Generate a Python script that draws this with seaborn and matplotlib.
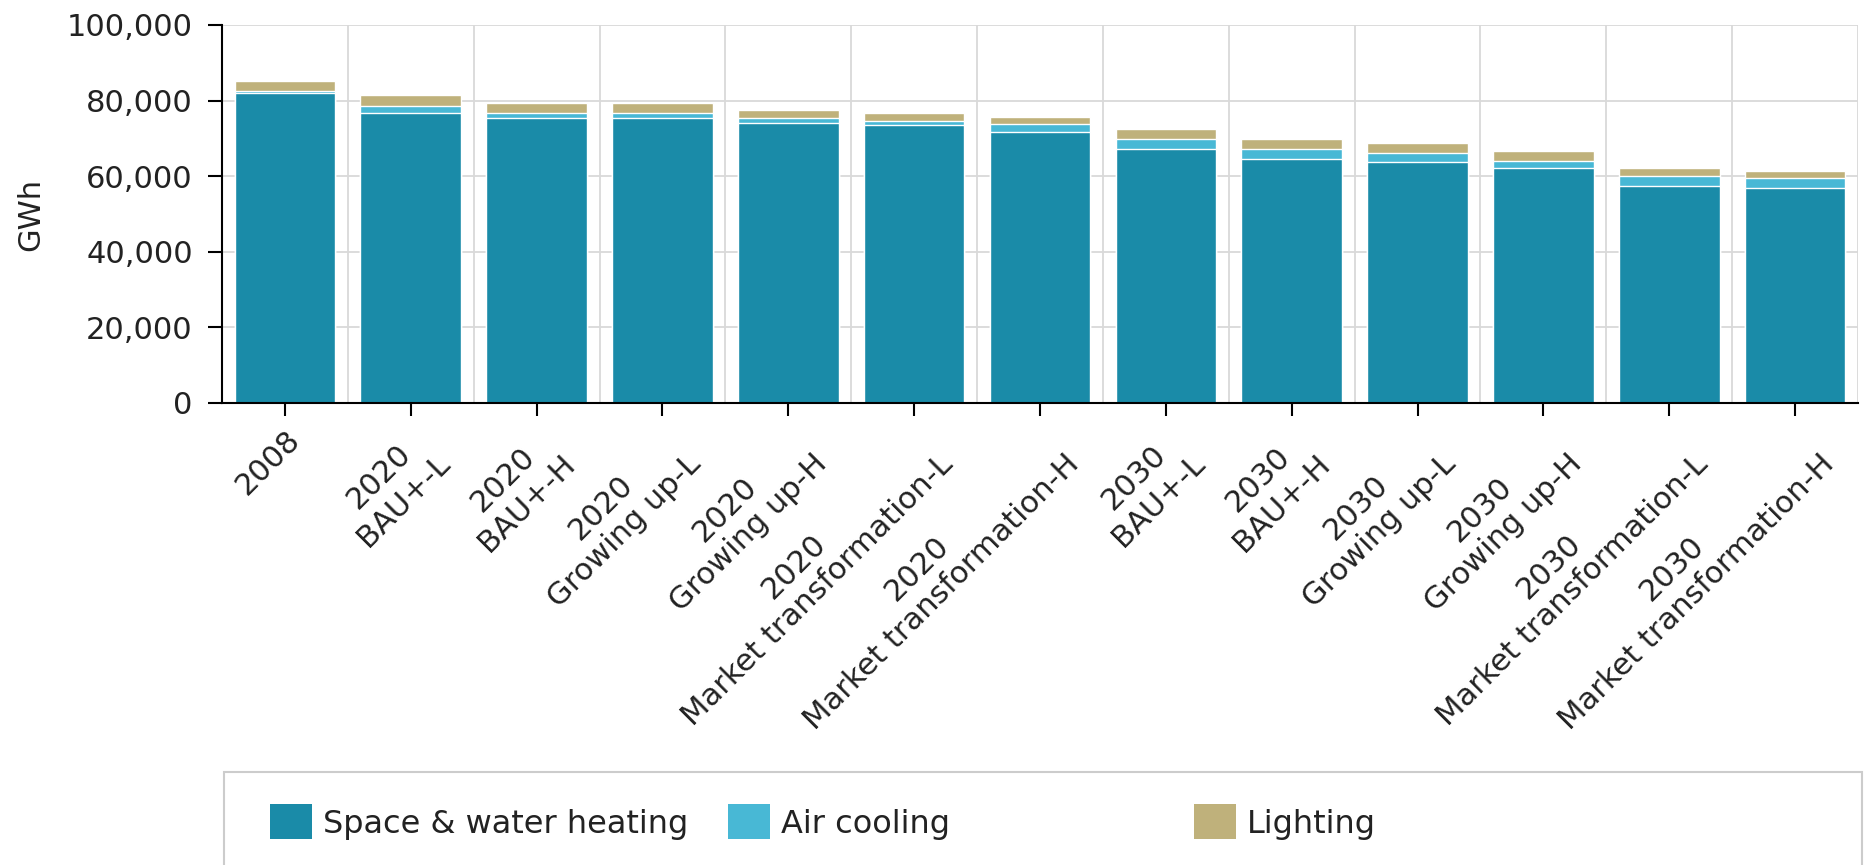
import numpy as np
import pandas as pd
import matplotlib
matplotlib.use("Agg")
import matplotlib.pyplot as plt
import seaborn as sns
from matplotlib.patches import Patch, Rectangle
from matplotlib.ticker import MultipleLocator, StrMethodFormatter

# values (GWh)
years = ["2008", "2020", "2020", "2020", "2020", "2020", "2020",
         "2030", "2030", "2030", "2030", "2030", "2030"]
scenarios = ["", "BAU+-L", "BAU+-H", "Growing up-L", "Growing up-H",
             "Market transformation-L", "Market transformation-H",
             "BAU+-L", "BAU+-H", "Growing up-L", "Growing up-H",
             "Market transformation-L", "Market transformation-H"]
heating = [81900, 76800, 75500, 75500, 74150, 73500, 71600, 67100, 64550, 63850, 62100, 57500, 56800]
cooling = [700, 1850, 1300, 1300, 1330, 1150, 2100, 2650, 2650, 2200, 1950, 2650, 2650]
lighting = [2650, 2830, 2650, 2650, 2030, 2200, 2000, 2650, 2650, 2650, 2650, 2100, 2000]

series_names = ["Space & water heating", "Air cooling", "Lighting"]
c_heat, c_cool, c_light = "#1a8ba8", "#48b8d5", "#bfb17b"

labels = [y if s == "" else y + "\n" + s for y, s in zip(years, scenarios)]
df = pd.DataFrame({"label": labels, "heating": heating, "cooling": cooling, "lighting": lighting})
df["heat_cool"] = df["heating"] + df["cooling"]
df["total"] = df["heat_cool"] + df["lighting"]

sns.set_theme(style="white")
plt.rcParams["font.family"] = ["DejaVu Sans"]
txt = "#222222"
fs = 22

W, H = 1866, 865
fig = plt.figure(figsize=(W / 100, H / 100), dpi=100)
ax = fig.add_axes([222 / W, 1 - 403 / H, (1858 - 222) / W, (403 - 25) / H])

# stacked bars drawn as overlapping cumulative totals
for col, color in [("total", c_light), ("heat_cool", c_cool), ("heating", c_heat)]:
    sns.barplot(data=df, x="label", y=col, color=color, saturation=1, width=0.8,
                edgecolor="white", linewidth=1, errorbar=None, ax=ax)

ax.set_xlim(-0.5, len(labels) - 0.5)
ax.set_ylim(0, 100000)
ax.yaxis.set_major_locator(MultipleLocator(20000))
ax.yaxis.set_major_formatter(StrMethodFormatter("{x:,.0f}"))

ax.set_axisbelow(True)
ax.grid(axis="y", which="major", color="#d9d9d9", lw=1.3)
ax.set_xticks(np.arange(-0.5, len(labels), 1), minor=True)
ax.grid(axis="x", which="minor", color="#d9d9d9", lw=1.3)
ax.tick_params(axis="x", which="minor", length=0)

for side in ["top", "right"]:
    ax.spines[side].set_visible(False)
for side in ["left", "bottom"]:
    ax.spines[side].set_color("black")
    ax.spines[side].set_linewidth(1.5)

ax.tick_params(axis="y", length=10, width=1.5, pad=11, labelsize=fs, labelcolor=txt, color="black", left=True)
ax.tick_params(axis="x", which="major", length=9, width=1.5, pad=7, labelsize=fs, labelcolor=txt, color="black", bottom=True)
plt.setp(ax.get_xticklabels(), rotation=45, ha="right", va="top", rotation_mode="anchor",
         multialignment="center")

ax.set_xlabel("")
ax.set_ylabel("GWh", fontsize=fs, color=txt)
ax.yaxis.set_label_coords(-0.108, 0.5)

# legend: boxed strip at the bottom with three fixed-width cells
fig.add_artist(Rectangle((224 / W, -0.05), (1862 - 224) / W, 0.05 + 1 - 772 / H,
                         transform=fig.transFigure, fill=False, edgecolor="#cccccc", lw=1.5))
for name, color, xpix in zip(series_names, [c_heat, c_cool, c_light], [270, 728, 1194]):
    fig.legend(handles=[Patch(facecolor=color, edgecolor="none")], labels=[name],
               loc="center left", bbox_to_anchor=(xpix / W, 1 - 822 / H), frameon=False,
               fontsize=23, handlelength=1.3, handleheight=1.3, handletextpad=0.35,
               borderpad=0, borderaxespad=0, labelcolor=txt)

fig.savefig("out.png", dpi=100)
